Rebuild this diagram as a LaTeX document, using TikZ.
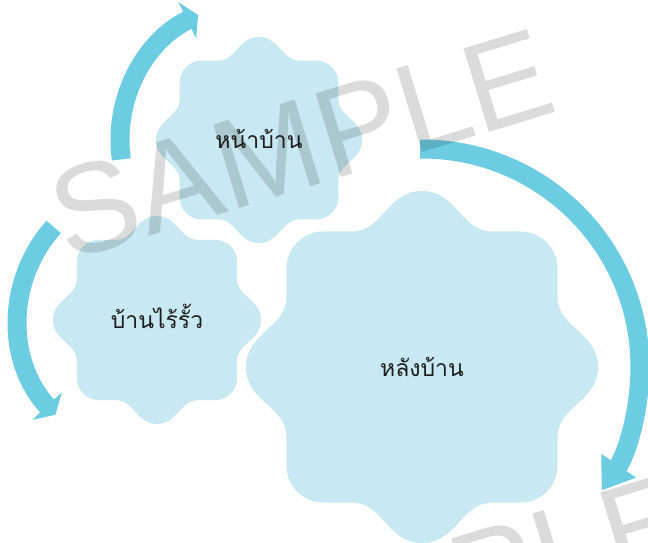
\documentclass[tikz,border=0pt]{standalone}
\usepackage{fontspec}
\setmainfont{Liberation Sans}
\newfontfamily\thaifont[Script=Thai]{Loma}
\usetikzlibrary{arrows.meta}
\definecolor{blobfill}{HTML}{C8E8F2}
\definecolor{arrowcol}{HTML}{6CCDE2}
\definecolor{txtcol}{HTML}{1E1E1E}
\begin{document}
\begin{tikzpicture}[x=1pt,y=1pt,
  blob/.style={fill=blobfill},
  thaitext/.style={font=\thaifont\fontsize{23}{28}\selectfont, text=txtcol, inner sep=0pt, anchor=base},
  cycarrow/.style={draw=arrowcol, line width=19pt},
  wmark/.style={font=\fontsize{127}{127}\selectfont, text=black, text opacity=0.14, inner sep=0pt, rotate=17, anchor=base},
  wavy/.pic={
    \fill[blob] (-0.56,0.77) -- (-0.40,0.77)
      .. controls (-0.22,0.77) and (-0.20,1.0) .. (0,1.0)
      .. controls (0.20,1.0) and (0.22,0.77) .. (0.40,0.77) -- (0.56,0.77)
      arc[start angle=90,end angle=0,radius=0.21] -- (0.77,0.40)
      .. controls (0.77,0.22) and (1.0,0.20) .. (1.0,0)
      .. controls (1.0,-0.20) and (0.77,-0.22) .. (0.77,-0.40) -- (0.77,-0.56)
      arc[start angle=0,end angle=-90,radius=0.21] -- (0.40,-0.77)
      .. controls (0.22,-0.77) and (0.20,-1.0) .. (0,-1.0)
      .. controls (-0.20,-1.0) and (-0.22,-0.77) .. (-0.40,-0.77) -- (-0.56,-0.77)
      arc[start angle=-90,end angle=-180,radius=0.21] -- (-0.77,-0.40)
      .. controls (-0.77,-0.22) and (-1.0,-0.20) .. (-1.0,0)
      .. controls (-1.0,0.20) and (-0.77,0.22) .. (-0.77,0.40) -- (-0.77,0.56)
      arc[start angle=180,end angle=90,radius=0.21] -- cycle;
  }]
\useasboundingbox (0,0) rectangle (648,542);
\coordinate (cF) at (259,402);
\coordinate (cL) at (157,222);
\coordinate (cB) at (422,175);
\pic[scale=103] at (cF) {wavy};
\pic[scale=104] at (cL) {wavy};
\pic[scale=176] at (cB) {wavy};
\node[thaitext] (front) at (259,393.5) {หน้าบ้าน};
\node[thaitext] (side) at (157,214) {บ้านไร้รั้ว};
\node[thaitext] (back) at (422,166) {หลังบ้าน};
\draw[cycarrow, -{Triangle[length=12pt,width=40pt]}] ([shift={(188:139)}]cF) arc[start angle=188, end angle=116, radius=139];
\draw[cycarrow, -{Triangle[length=12pt,width=40pt]}] ([shift={(138:139)}]cL) arc[start angle=138, end angle=223, radius=139];
\draw[cycarrow, -{Triangle[length=30pt,width=40pt]}] ([shift={(90.5:218)}]cB) arc[start angle=90.5, end angle=-34.5, radius=218];
\node[wmark] (wm1) at (314.3,356.2) {SAMPLE};
\node[wmark] (wm2) at (450.7,-88.3) {SAMPLE};
\end{tikzpicture}
\end{document}
